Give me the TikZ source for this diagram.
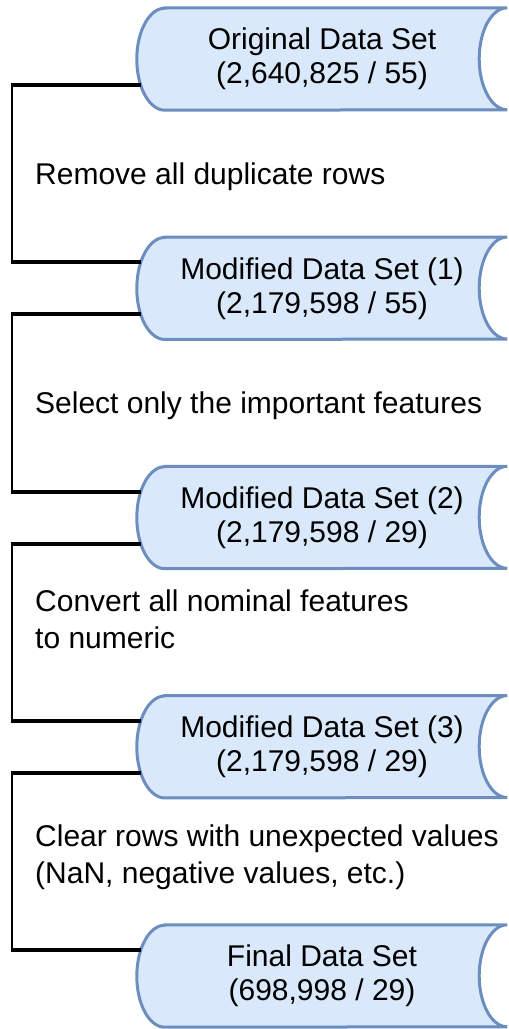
\documentclass[tikz,border=0pt]{standalone}
\usepackage{fontspec}
\setmainfont{Liberation Sans}
\usetikzlibrary{backgrounds}
\definecolor{boxfill}{HTML}{DAE8FC}
\definecolor{boxline}{HTML}{6C8EBF}
\tikzset{
  databox/.style={rectangle, minimum width=370pt, minimum height=102pt, inner sep=0pt, align=center, font=\fontsize{30}{34}\selectfont},
  steplabel/.style={anchor=base west, inner sep=0pt, align=left, font=\fontsize{30}{37}\selectfont},
  connline/.style={line width=2pt, black},
  armline/.style={line width=4pt, black},
  shapeline/.style={draw=boxline, fill=boxfill, line width=3pt}
}
\newcommand{\dsshape}[1]{%
  \path[shapeline] ([xshift=28pt]#1.north west) -- (#1.north east)
    arc[start angle=90, end angle=270, x radius=28pt, y radius=51pt]
    -- ([xshift=28pt]#1.south west)
    arc[start angle=-90, end angle=-270, x radius=28pt, y radius=51pt] -- cycle;}
\newcommand{\ioanchors}[1]{%
  \coordinate (#1-in) at ([shift={(4pt,26pt)}]#1.west);
  \coordinate (#1-out) at ([shift={(4pt,-26pt)}]#1.west);}
\begin{document}
\begin{tikzpicture}[x=1pt,y=-1pt]
\useasboundingbox (0,0) rectangle (509,1029);
\coordinate (rail) at (12,0);

\node[databox] (b1) at (322,59) {Original Data Set\\(2,640,825 / 55)};
\node[databox] (b2) at (322,288.25) {Modified Data Set (1)\\(2,179,598 / 55)};
\node[databox] (b3) at (322,517.5) {Modified Data Set (2)\\(2,179,598 / 29)};
\node[databox] (b4) at (322,746.75) {Modified Data Set (3)\\(2,179,598 / 29)};
\node[databox] (b5) at (322,976) {Final Data Set\\(698,998 / 29)};

\begin{pgfonlayer}{background}
\foreach \b in {b1,b2,b3,b4,b5} {\dsshape{\b}}
\end{pgfonlayer}

\foreach \b in {b1,b2,b3,b4,b5} {\ioanchors{\b}}

\foreach \a/\c in {b1/b2,b2/b3,b3/b4,b4/b5} {
  \draw[connline] (\a-out) -- (\a-out -| rail) -- (\c-in -| rail) -- (\c-in);
  \draw[armline] (\a-out) -- ([xshift=-1pt]\a-out -| rail);
  \draw[armline] ([xshift=-1pt]\c-in -| rail) -- (\c-in);
}

\node[steplabel] (t1) at (35,184) {Remove all duplicate rows};
\node[steplabel] (t2) at (35,413) {Select only the important features};
\node[steplabel] (t3) at (35,648) {Convert all nominal features\\to numeric};
\node[steplabel] (t4) at (35,883) {Clear rows with unexpected values\\(NaN, negative values, etc.)};
\end{tikzpicture}
\end{document}
